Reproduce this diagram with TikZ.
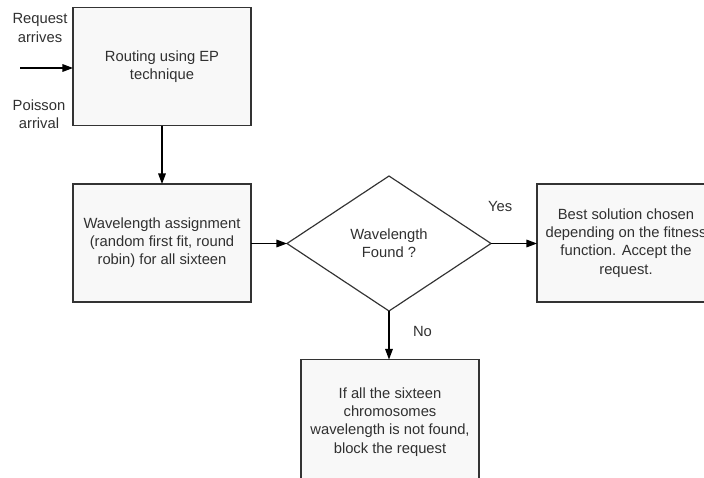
\documentclass[tikz,border=0pt]{standalone}
\usepackage{fontspec}
\setmainfont{Liberation Sans}
\usetikzlibrary{arrows.meta,shapes.geometric}
\definecolor{boxfill}{HTML}{F8F8F8}
\definecolor{edge}{HTML}{333333}
\definecolor{txt}{HTML}{303030}
\begin{document}
\begin{tikzpicture}[x=0.03cm,y=-0.03cm,
	box/.style={draw=edge,line width=1.1pt,fill=boxfill,outer sep=0pt,inner sep=2pt,
		minimum width=5.34cm,minimum height=3.54cm,align=center,text=txt,
		font=\fontsize{12.6}{15.5}\selectfont},
	decision/.style={draw=edge,line width=1pt,shape=diamond,outer sep=0pt,inner sep=0pt,
		aspect=1.51,minimum width=6.12cm,minimum height=4.05cm,align=center,text=txt,
		font=\fontsize{12.6}{15.5}\selectfont},
	lbl/.style={align=center,text=txt,inner sep=0pt,font=\fontsize{12.6}{15.5}\selectfont},
	arrow/.style={draw=black,line width=1pt,-{Triangle[length=9pt,width=6.5pt]}}]
			\useasboundingbox (0,0) rectangle (704,477);
			
			\node[box] (route) at (162,66.5) {Routing using EP\\technique};
			\node[box] (assign) at (162,243) {Wavelength assignment\\(random first fit, round\\robin) for all sixteen};
			\node[decision] (found) at (389,243.5) {Wavelength\\Found ?};
			\node[box] (best) at (626,243) {Best solution chosen\\depending on the fitness\\function. Accept the\\request.};
			\node[box,minimum height=3.75cm] (block) at (390,422) {If all the sixteen\\chromosomes\\wavelength is not found,\\block the request};
			
			\node[lbl] (req) at (40,28) {Request\\arrives};
			\node[lbl] (poisson) at (39,114) {Poisson\\arrival};
			\coordinate (in) at (20,68);
			
			\draw[arrow] (in) -- (in -| route.west);
			\draw[arrow] (route.south) -- (assign.north);
			\draw[arrow] (assign.east |- found.west) -- (found.west);
			\draw[arrow] (found.east) -- (best.west |- found.east) node[lbl,pos=0.2,above=27pt] (yes) {Yes};
			\draw[arrow] (found.south) -- (found.south |- block.north) node[lbl,pos=0.42,right=20pt] (no) {No};
\end{tikzpicture}
\end{document}
